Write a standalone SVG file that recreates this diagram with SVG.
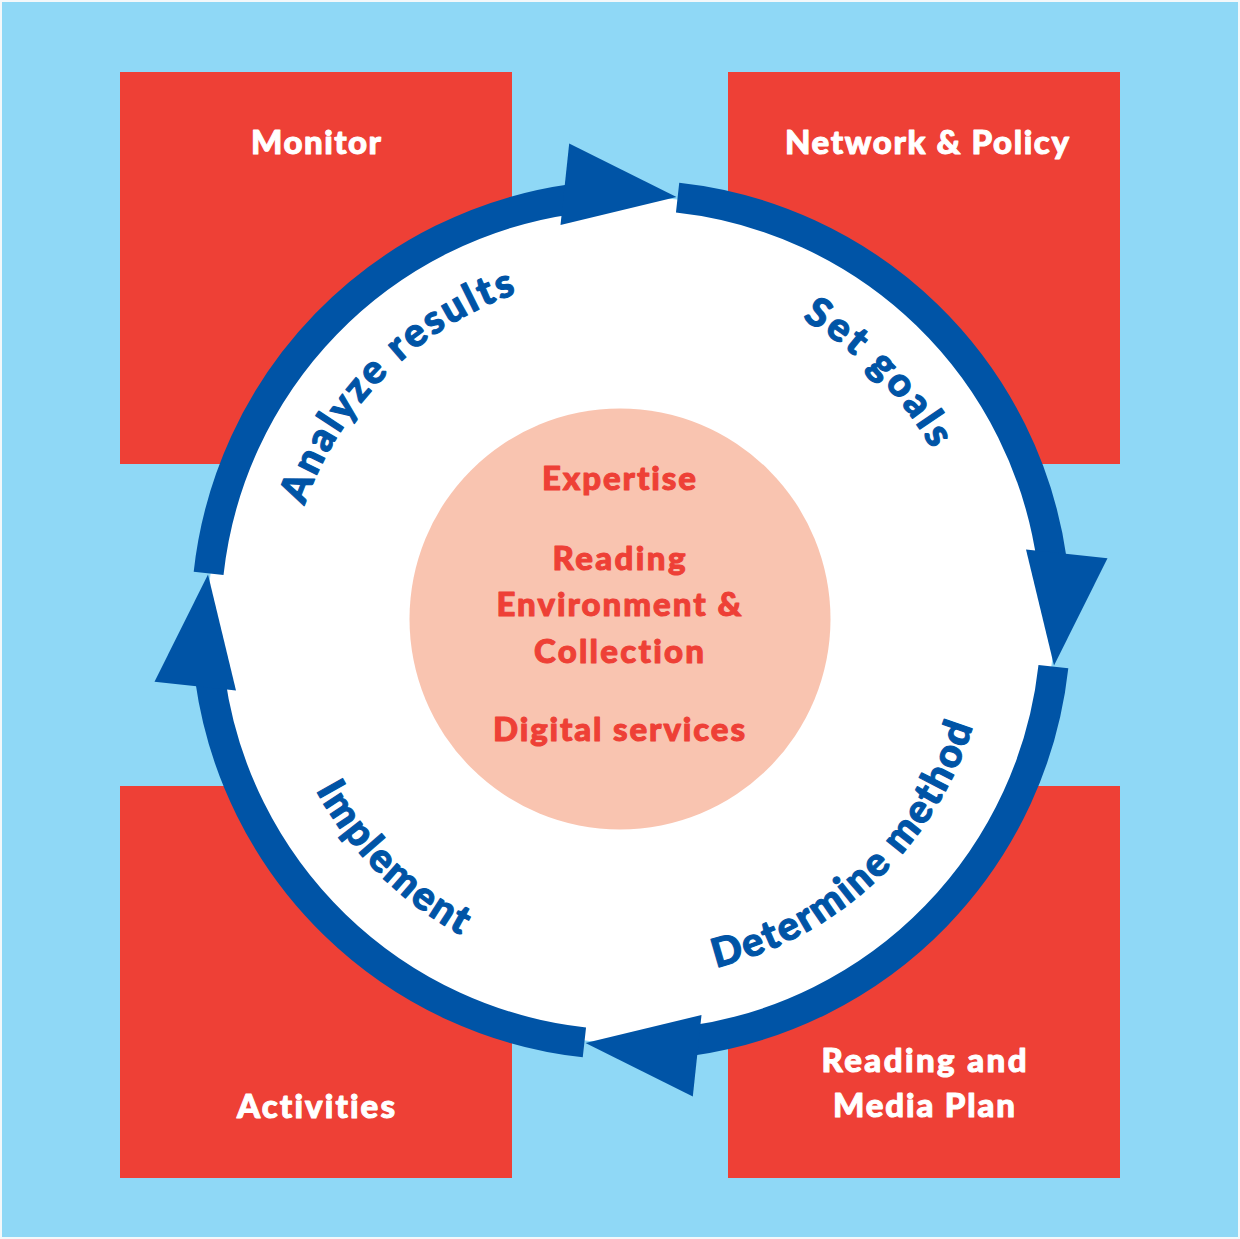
<svg xmlns="http://www.w3.org/2000/svg" width="1240" height="1239" viewBox="0 0 1240 1239">
<style>
.box{fill:#ee4036}
.lbl{font-family:Lato,"Noto Sans","Liberation Sans",sans-serif;font-weight:900;font-size:33px;fill:#ffffff;stroke:#ffffff;stroke-width:1;stroke-linejoin:round;text-anchor:middle;font-variant-ligatures:none}
.ctr{font-family:Lato,"Noto Sans","Liberation Sans",sans-serif;font-weight:900;font-size:33px;fill:#ee4036;stroke:#ee4036;stroke-width:1;stroke-linejoin:round;text-anchor:middle;font-variant-ligatures:none}
.ring{font-family:Lato,"Noto Sans","Liberation Sans",sans-serif;font-weight:900;font-size:40px;fill:#0054a6;stroke:#0054a6;stroke-width:1.1;stroke-linejoin:round;font-variant-ligatures:none}
.arc{fill:none;stroke:#0054a6;stroke-width:30;stroke-linecap:butt}
.head{fill:#0054a6}
</style>
<defs>
<path id="pAnalyze" d="M 285 620 A 346 346 0 0 1 631 274"/>
<path id="pSet" d="M 631 274 A 346 346 0 0 1 977 620"/>
<path id="pDetermine" d="M 631 978 A 358 358 0 0 0 989 620"/>
<path id="pImplement" d="M 273 620 A 358 358 0 0 0 631 978"/>
<g id="segment">
<path class="arc" d="M 677.6 197.6 A 425 425 0 0 1 1051.9 560.8"/>
<polygon class="head" points="1026,549.5 1107.5,558.2 1054,665.5"/>
</g>
</defs>
<rect x="0" y="0" width="1240" height="1239" fill="#f4f8fa"/>
<rect x="2" y="2" width="1236" height="1235" fill="#8fd8f6"/>
<g id="node-monitor">
<rect class="box" x="120" y="72" width="392" height="392"/>
<text class="lbl" x="316" y="154" textLength="130">Monitor</text>
</g>
<g id="node-network-policy">
<rect class="box" x="728" y="72" width="392" height="392"/>
<text class="lbl" x="927" y="154" textLength="284">Network &amp; Policy</text>
</g>
<g id="node-activities">
<rect class="box" x="120" y="786" width="392" height="392"/>
<text class="lbl" x="316" y="1118" textLength="158">Activities</text>
</g>
<g id="node-reading-media-plan">
<rect class="box" x="728" y="786" width="392" height="392"/>
<text class="lbl" x="924" y="1072" textLength="205">Reading and</text>
<text class="lbl" x="924" y="1117" textLength="182">Media Plan</text>
</g>
<g id="node-cycle">
<circle cx="631" cy="620" r="423" fill="#ffffff"/>
</g>
<g id="node-core">
<circle cx="620" cy="619" r="210.5" fill="#f9c4b0"/>
<text class="ctr" x="619" y="490" textLength="154">Expertise</text>
<text class="ctr" x="619" y="570" textLength="133">Reading</text>
<text class="ctr" x="619" y="616" textLength="245">Environment &amp;</text>
<text class="ctr" x="619" y="663" textLength="170">Collection</text>
<text class="ctr" x="619" y="741" textLength="252">Digital services</text>
</g>
<g id="connectors">
<use href="#segment"/>
<use href="#segment" transform="rotate(90 631 620)"/>
<use href="#segment" transform="rotate(180 631 620)"/>
<use href="#segment" transform="rotate(270 631 620)"/>
</g>
<g id="node-steps">
<text class="ring"><textPath href="#pAnalyze" startOffset="50%" text-anchor="middle" textLength="310">Analyze results</textPath></text>
<text class="ring"><textPath href="#pSet" startOffset="50%" text-anchor="middle" textLength="186">Set goals</textPath></text>
<text class="ring"><textPath href="#pDetermine" startOffset="48%" text-anchor="middle" textLength="368">Determine method</textPath></text>
<text class="ring"><textPath href="#pImplement" startOffset="50%" text-anchor="middle" textLength="208">Implement</textPath></text>
</g>
</svg>
